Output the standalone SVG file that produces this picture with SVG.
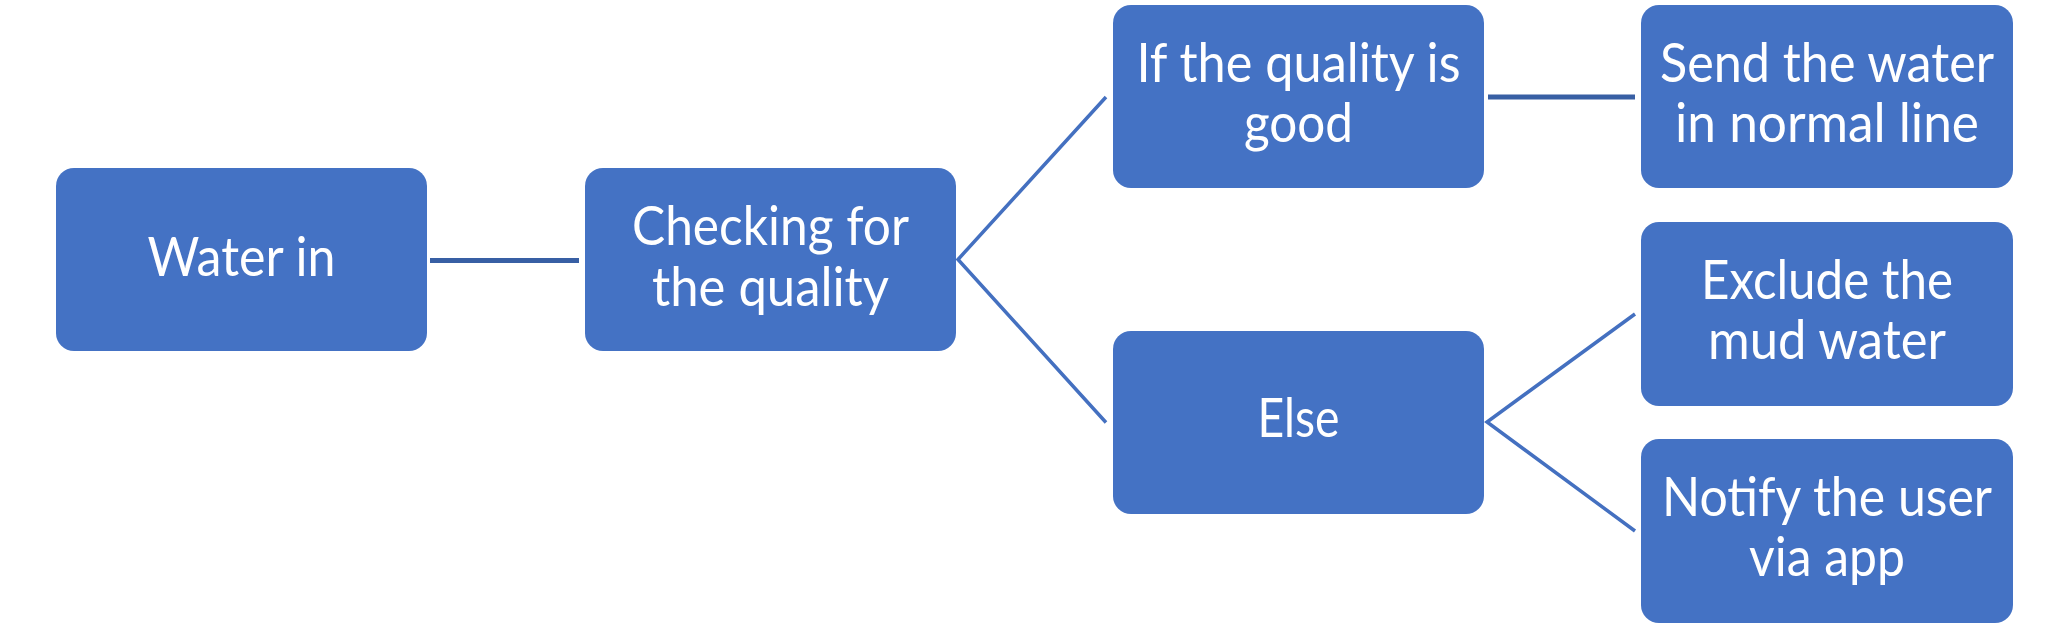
<svg xmlns="http://www.w3.org/2000/svg" width="2068" height="628" viewBox="0 0 2068 628">
<style>
.box{fill:#4472C4;}
.t{fill:#ffffff;font-family:Lato,"Open Sans","Liberation Sans",sans-serif;font-size:55px;text-anchor:middle;}
.thick{stroke:#385FA4;stroke-width:5;fill:none;}
.thin{stroke:#4470C0;stroke-width:3.5;fill:none;}
</style>
<rect width="2068" height="628" fill="#ffffff"/>
<g id="connectors">
<line class="thick" x1="430" y1="260.5" x2="579" y2="260.5"/>
<polyline class="thin" points="1106,97 958,259.5 1106,422.5"/>
<line class="thick" x1="1488" y1="97" x2="1635" y2="97"/>
<polyline class="thin" points="1635,314 1487,422 1635,531"/>
</g>
<g id="n1">
<rect class="box" x="56" y="168" width="371" height="183" rx="18"/>
<text class="t" x="241.5" y="275.5" textLength="188" lengthAdjust="spacingAndGlyphs">Water in</text>
</g>
<g id="n2">
<rect class="box" x="585" y="168" width="371" height="183" rx="18"/>
<text class="t" x="770.5" y="245" textLength="277" lengthAdjust="spacingAndGlyphs">Checking for</text>
<text class="t" x="770.5" y="305.5" textLength="237" lengthAdjust="spacingAndGlyphs">the quality</text>
</g>
<g id="n3">
<rect class="box" x="1113" y="5" width="371" height="183" rx="18"/>
<text class="t" x="1298.5" y="82" textLength="324" lengthAdjust="spacingAndGlyphs">If the quality is</text>
<text class="t" x="1298.5" y="142" textLength="109" lengthAdjust="spacingAndGlyphs">good</text>
</g>
<g id="n4">
<rect class="box" x="1641" y="5" width="372" height="183" rx="18"/>
<text class="t" x="1827" y="82" textLength="334" lengthAdjust="spacingAndGlyphs">Send the water</text>
<text class="t" x="1827" y="142" textLength="304" lengthAdjust="spacingAndGlyphs">in normal line</text>
</g>
<g id="n5">
<rect class="box" x="1113" y="331" width="371" height="183" rx="18"/>
<text class="t" x="1298.5" y="437" textLength="82" lengthAdjust="spacingAndGlyphs">Else</text>
</g>
<g id="n6">
<rect class="box" x="1641" y="222" width="372" height="184" rx="18"/>
<text class="t" x="1827" y="298.5" textLength="252" lengthAdjust="spacingAndGlyphs">Exclude the</text>
<text class="t" x="1827" y="358.5" textLength="238" lengthAdjust="spacingAndGlyphs">mud water</text>
</g>
<g id="n7">
<rect class="box" x="1641" y="439" width="372" height="184" rx="18"/>
<text class="t" x="1827" y="516" textLength="330" lengthAdjust="spacingAndGlyphs">Notify the user</text>
<text class="t" x="1827" y="576" textLength="156" lengthAdjust="spacingAndGlyphs">via app</text>
</g>
</svg>
